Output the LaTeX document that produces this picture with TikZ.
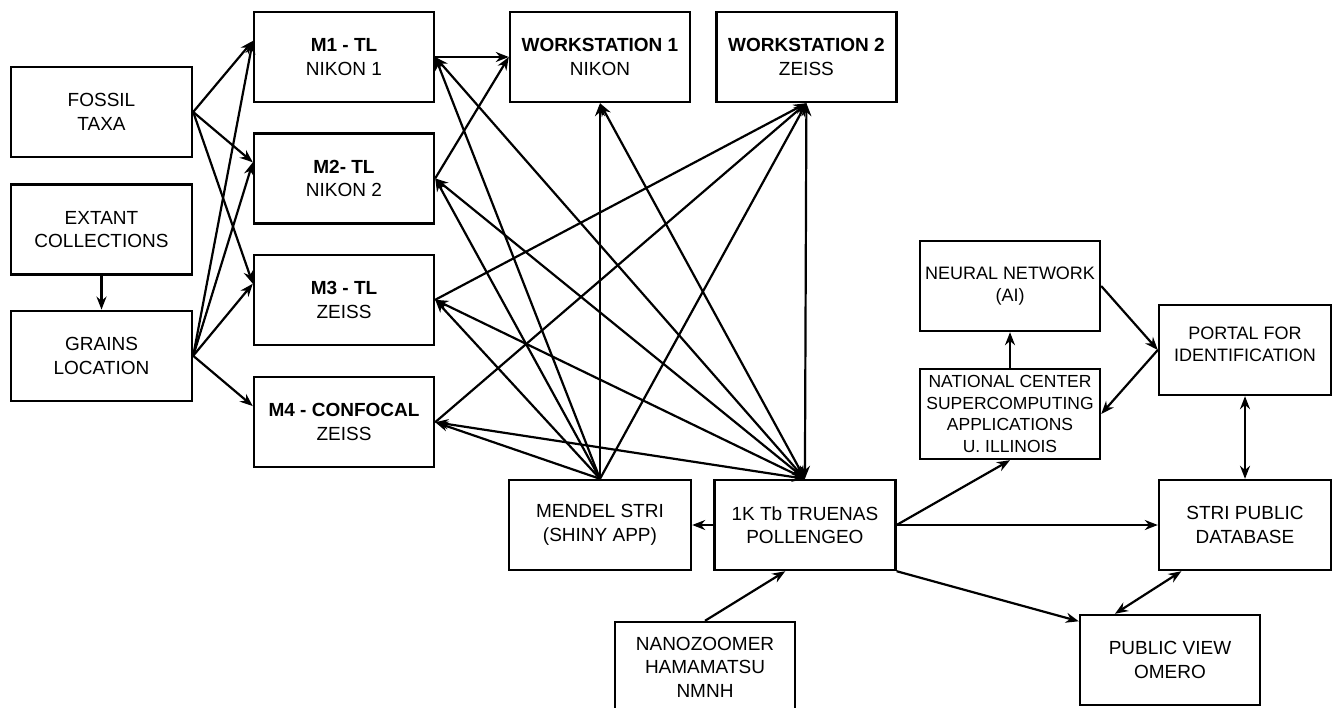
\documentclass[tikz,border=0pt]{standalone}
\usepackage{fontspec}
\setmainfont{Liberation Sans}
\usetikzlibrary{positioning,arrows.meta}

\begin{document}
\begin{tikzpicture}[x=1pt,y=-1pt,
    box/.style={draw,rectangle,line width=2.4pt,minimum width=180pt,minimum height=90pt,
                align=center,inner sep=2pt,font=\fontsize{19}{23.5}\selectfont},
    smallbox/.style={box,font=\fontsize{18}{22}\selectfont},
    link/.style={line width=2.2pt,-{Stealth[length=13pt,width=10pt]}},
    twoway/.style={{Stealth[length=13pt,width=10pt]}-{Stealth[length=13pt,width=10pt]}}]
    \useasboundingbox (0,0) rectangle (1332,708);

    % sources
    \node[box,minimum width=181pt] (fossil) at (101.5,112) {FOSSIL\\TAXA};
    \node[box,minimum width=181pt] (extant) [below=25pt of fossil] {EXTANT\\COLLECTIONS};
    \node[box,minimum width=181pt] (grains) [below=34pt of extant] {GRAINS\\LOCATION};

    % microscopes
    \node[box] (m1) at (344,57) {\textbf{M1 - TL}\\NIKON 1};
    \node[box] (m2) [below=29pt of m1] {\textbf{M2- TL}\\NIKON 2};
    \node[box] (m3) [below=29pt of m2] {\textbf{M3 - TL}\\ZEISS};
    \node[box] (m4) [below=30pt of m3] {\textbf{M4 - CONFOCAL}\\ZEISS};

    % workstations
    \node[box] (ws1) at (600,57) {\textbf{WORKSTATION 1}\\NIKON};
    \node[box] (ws2) [right=24pt of ws1] {\textbf{WORKSTATION 2}\\ZEISS};

    % storage
    \node[box,minimum width=182pt] (mendel) at (600,525) {MENDEL STRI\\(SHINY APP)};
    \node[box,minimum width=181pt] (truenas) [right=21pt of mendel] {1K Tb TRUENAS\\POLLENGEO};
    \node[box] (nano) at (705,667) {NANOZOOMER\\HAMAMATSU\\NMNH};

    % right side
    \node[smallbox] (neural) at (1010,286) {NEURAL NETWORK\\(AI)};
    \node[smallbox,font=\fontsize{17.5}{21.5}\selectfont] (ncsa) at (1010,414) {NATIONAL CENTER\\SUPERCOMPUTING\\APPLICATIONS\\U. ILLINOIS};
    \node[smallbox,minimum width=172pt] (portal) at (1245,350) {PORTAL FOR\\IDENTIFICATION\\[-10pt]};
    \node[box,minimum width=172pt] (stridb) at (1245,525) {STRI PUBLIC\\DATABASE};
    \node[box] (omero) at (1170,660) {PUBLIC VIEW\\OMERO};

    \path[link]
    (fossil.east)  edge (m1.170) edge (m2.170) edge (m3.170)
    (grains.east)  edge (m1.170) edge (m2.170) edge (m3.170) edge (m4.170)
    (extant)       edge (grains)

    (m1.east)      edge (ws1.west)
    (m2.east)      edge (ws1.west)
    (m3.east)      edge (ws2.south)
    (m4.east)      edge (ws2.south)

    (mendel.north) edge (m1.east) edge (m2.east) edge (m3.east) edge (m4.east)
                   edge (ws1.south) edge (ws2.south)
    (truenas.north) edge [twoway] (m1.east) edge [twoway] (m2.east)
                   edge [twoway] (m3.east) edge [twoway] (m4.east)
                   edge [twoway] (ws1.south) edge [twoway] (ws2.south)

    (truenas)      edge (mendel)
    (truenas.east) edge (stridb.west) edge (ncsa.south)
    (truenas.south east) edge (omero.157)
    (nano.north)   edge (truenas.247)

    (ncsa)         edge (neural)
    (neural.east)  edge (portal.west)
    (portal.west)  edge (ncsa.east)
    (portal)       edge [twoway] (stridb)
    (stridb.216)   edge [twoway] (omero.140)
    ;
\end{tikzpicture}
\end{document}
